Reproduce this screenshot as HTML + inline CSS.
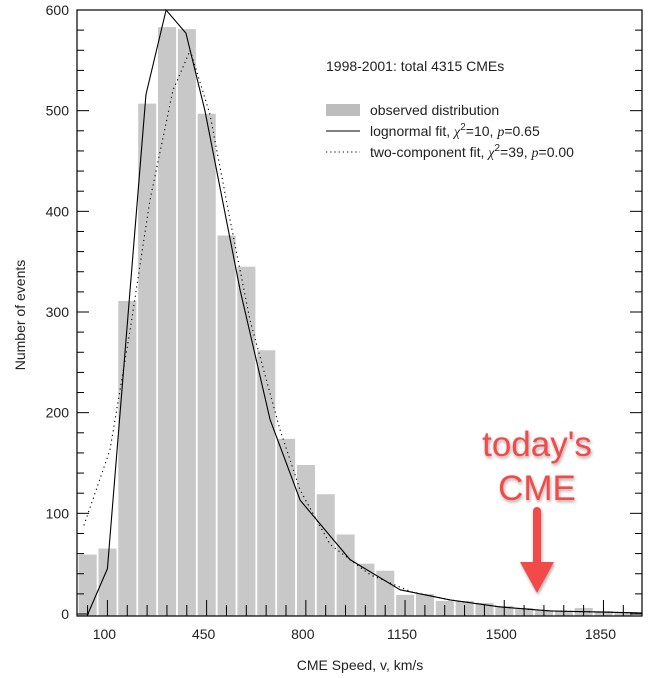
<!DOCTYPE html>
<html><head><meta charset="utf-8"><style>
html,body{margin:0;padding:0;background:#fff;}
svg{display:block;font-family:"Liberation Sans",sans-serif;}
</style></head><body>
<svg id="chart" width="651" height="678" viewBox="0 0 651 678" xmlns="http://www.w3.org/2000/svg">
<defs><filter id="sh" x="-20%" y="-20%" width="140%" height="140%"><feDropShadow dx="1" dy="2" stdDeviation="1.5" flood-color="#000" flood-opacity="0.35"/></filter></defs>
<g id="bars"></g>
<g id="lines"></g>
<g id="axes"></g>
<g font-size="14" fill="#222">
<text x="326" y="71">1998-2001: total 4315 CMEs</text>
<rect x="326" y="104" width="34" height="12" fill="#bdbdbd"/>
<text x="370" y="115">observed distribution</text>
<line x1="326" y1="131" x2="360" y2="131" stroke="#000" stroke-width="1"/>
<text x="370" y="136">lognormal fit, <tspan font-family="Liberation Serif" font-style="italic">χ</tspan><tspan font-size="10" dy="-6">2</tspan><tspan dy="6">=10, </tspan><tspan font-family="Liberation Serif" font-style="italic">p</tspan>=0.65</text>
<line x1="326" y1="152" x2="360" y2="152" stroke="#000" stroke-width="1" stroke-dasharray="1.2,3"/>
<text x="370" y="157">two-component fit, <tspan font-family="Liberation Serif" font-style="italic">χ</tspan><tspan font-size="10" dy="-6">2</tspan><tspan dy="6">=39, </tspan><tspan font-family="Liberation Serif" font-style="italic">p</tspan>=0.00</text>
</g>
<text transform="translate(25,315) rotate(-90)" text-anchor="middle" font-size="14" fill="#222">Number of events</text>
<text x="360" y="670" text-anchor="middle" font-size="14" fill="#222">CME Speed, v, km/s</text>
<g filter="url(#sh)" fill="#f24848">
<text x="537" y="456" text-anchor="middle" font-size="35">today's</text>
<text x="537" y="500" text-anchor="middle" font-size="35">CME</text>
<line x1="537" y1="511" x2="537" y2="566" stroke="#f24848" stroke-width="8" stroke-linecap="round"/>
<polygon points="520,562 554,562 537,593"/>
</g>
</svg>
<script>
const binCenters=[30,100,170,240,310,380,450,520,590,660,730,800,870,940,1010,1080,1150,1220,1290,1360,1430,1500,1570,1640,1710,1780,1850,1920];
const counts=[59,65,311,507,583,581,497,376,345,262,174,148,119,79,50,43,19,20,13,13,11,8,6,4,3,6,3,2];
const lognormalX=[31,100,236,307,377,444,568,674,780,956,1133,1309,1486,1662,1986];
const lognormalY=[0,45,516,600,577,500,322,193,113,54,24,14,7,3,1];
const twoCompX=[17,109,180,250,331,392,462,533,603,709,780,886,1027,1173,1309,1486,1662,1986];
const twoCompY=[88,163,282,411,520,560,496,391,292,183,123,69,39,22,14,7,3,1];
const yTicks=[0,100,200,300,400,500,600];
const xTicks=[100,450,800,1150,1500,1850];
const binWidth=70;
const L=77,R=642,T=10,B=614,X0=-7.3,X1=1986,Y0=0,Y1=600;
const NS="http://www.w3.org/2000/svg";
function sx(v){return L+(v-X0)/(X1-X0)*(R-L);}
function sy(v){return B-(v-Y0)/(Y1-Y0)*(B-T);}
function mk(tag,attrs,parent){const e=document.createElementNS(NS,tag);for(const k in attrs)e.setAttribute(k,attrs[k]);parent.appendChild(e);return e;}
const bars=document.getElementById('bars');
binCenters.forEach((c,i)=>{
  const x0=sx(c-binWidth/2)+1, x1=sx(c+binWidth/2)-0.8;
  const r=mk('rect',{x:x0,y:sy(counts[i]),width:x1-x0,height:Math.max(0,B+2-sy(counts[i])),fill:'#c8c8c8'},bars);
  
  
});
const lines=document.getElementById('lines');
const p1=mk('polyline',{points:lognormalX.map((x,i)=>sx(x)+','+sy(lognormalY[i])).join(' '),fill:'none',stroke:'#000','stroke-width':1.1},lines);


const p2=mk('polyline',{points:twoCompX.map((x,i)=>sx(x)+','+sy(twoCompY[i])).join(' '),fill:'none',stroke:'#000','stroke-width':1.1,'stroke-dasharray':'1.2,3.5'},lines);


const ax=document.getElementById('axes');
const frame=mk('rect',{x:L,y:T,width:R-L,height:B+2-T,fill:'none',stroke:'#000','stroke-width':1.2},ax);


for(let v=Y0;v<=Y1;v+=20){
  const y=sy(v), major=v%100===0, len=major?12:7;
  const t1=mk('line',{x1:L,y1:y,x2:L+len,y2:y,stroke:'#000','stroke-width':1},ax);
  
  
  const t2=mk('line',{x1:R-len,y1:y,x2:R,y2:y,stroke:'#000','stroke-width':1},ax);
  
  
}
yTicks.forEach(v=>{
  const t=mk('text',{x:L-8,y:sy(v)+5,'text-anchor':'end','font-size':14,fill:'#222'},ax);
  t.textContent=v;
  
  
});
binCenters.forEach(c=>{
  const major=xTicks.includes(c);
  const t=mk('line',{x1:sx(c),y1:B+2,x2:sx(c),y2:B+2-(major?16:11),stroke:'#000','stroke-width':1},ax);
  
  
});
xTicks.forEach(v=>{
  const t=mk('text',{x:sx(v)-3,y:639,'text-anchor':'middle','font-size':14,fill:'#222'},ax);
  t.textContent=v;
  
  
});
</script>
</body></html>
